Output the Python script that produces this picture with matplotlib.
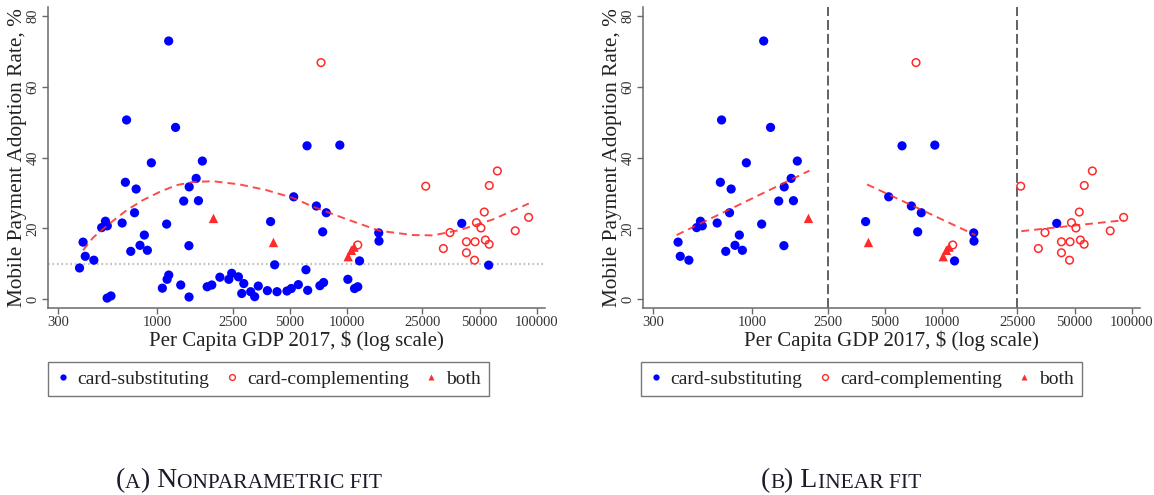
import matplotlib
matplotlib.use("Agg")
import matplotlib.pyplot as plt
from matplotlib.lines import Line2D
from matplotlib.ticker import NullLocator
from matplotlib.offsetbox import TextArea, HPacker, AnchoredOffsetbox

# ---- data: per capita GDP 2017 ($) and mobile payment adoption rate (%) ----
sub_gdp = [1150, 690, 1250, 932, 1730, 1605, 680, 1475, 775, 1380,
           1650, 760, 534, 510, 546, 654, 1122, 407, 856, 812,
           726, 888, 1470, 418, 464, 390, 545, 571, 1065, 1128,
           1151, 1331, 1472, 1834, 1940, 2140, 2385, 2470, 2680, 2860,
           2790, 3110, 3265, 3410, 3808, 4280, 4830, 5090, 5543, 6080,
           6210, 7200, 7530, 3960, 4160, 5240, 6900, 7780, 7450, 6160,
           9170, 14700, 14750, 11650, 10110, 10960, 11400, 40250, 55800]
sub_rate = [72.9, 50.6, 48.5, 38.5, 39.0, 34.1, 33.0, 31.7, 31.1, 27.7,
            27.8, 24.4, 22.0, 20.2, 20.7, 21.5, 21.2, 16.1, 18.1, 15.2,
            13.5, 13.8, 15.1, 12.1, 11.0, 8.8, 0.3, 0.9, 3.1, 5.6,
            6.8, 4.0, 0.6, 3.5, 4.0, 6.2, 5.6, 7.3, 6.3, 4.4,
            1.6, 2.1, 0.7, 3.7, 2.4, 2.1, 2.3, 3.0, 4.1, 8.3,
            2.5, 3.8, 4.7, 21.9, 9.7, 28.9, 26.3, 24.4, 19.0, 43.3,
            43.5, 18.7, 16.4, 10.8, 5.6, 3.0, 3.5, 21.4, 9.6]

comp_gdp = [7300, 11400, 26000, 32200, 34900, 42600, 42600, 47000, 47300,
            48100, 50800, 52900, 53600, 56100, 56200, 62000, 77000, 90600]
comp_rate = [66.8, 15.3, 31.9, 14.3, 18.8, 16.2, 13.1, 11.0, 16.2,
             21.6, 20.1, 24.6, 16.7, 15.5, 32.1, 36.2, 19.3, 23.1]

both_gdp = [1980, 4100, 10150, 10550, 10900]
both_rate = [22.8, 16.0, 12.0, 13.8, 14.7]

# nonparametric fit (panel A)
np_fit_gdp = [407, 460, 563, 690, 844, 1033, 1264, 1546, 1968, 2721, 3758,
              5190, 6626, 9930, 14860, 22230, 28330, 39200, 58700, 90800]
np_fit_rate = [13.8, 17.4, 21.4, 25.1, 28.0, 30.3, 32.2, 33.1, 33.3, 32.4, 30.8,
               28.6, 26.1, 22.6, 19.3, 18.1, 18.0, 19.5, 22.5, 27.0]

# linear fits by GDP bin (panel B)
lin_fit_gdp = [[400, 2005], [4030, 15000], [26200, 91000]]
lin_fit_rate = [[18.1, 36.3], [32.4, 18.1], [19.2, 22.3]]

bin_edges = [2500, 25000]
rate_threshold = 10

x_ticks = [300, 1000, 2500, 5000, 10000, 25000, 50000, 100000]
y_ticks = [0, 20, 40, 60, 80]

legend_labels = ["card-substituting", "card-complementing", "both"]

# ---- style ----
W, H = 1154, 495
plt.rcParams["font.family"] = ["Liberation Serif", "DejaVu Serif"]
BLUE = "#0000ff"
RED = "#ff2a2a"
SPINE = "#6a6a6a"

fig = plt.figure(figsize=(W / 100, H / 100), dpi=100)

def px_axes(x0, x1, y0, y1):
    return fig.add_axes([x0 / W, 1 - y1 / H, (x1 - x0) / W, (y1 - y0) / H])

def style_axes(ax):
    ax.set_xscale("log")
    ax.set_xlim(266, 110500)
    ax.set_ylim(-2.5, 82.5)
    ax.set_xticks(x_ticks)
    ax.set_xticklabels([str(t) for t in x_ticks])
    ax.xaxis.set_minor_locator(NullLocator())
    ax.set_yticks(y_ticks)
    ax.set_yticklabels([str(t) for t in y_ticks], rotation=90, va="center")
    for s in ("top", "right"):
        ax.spines[s].set_visible(False)
    for s in ("left", "bottom"):
        ax.spines[s].set_color(SPINE)
        ax.spines[s].set_linewidth(1.1)
    ax.tick_params(direction="out", length=4, width=1, color=SPINE,
                   labelsize=10.5, labelcolor="#333333", pad=2)
    ax.set_xlabel("Per Capita GDP 2017, \\$ (log scale)", fontsize=15,
                  color="#222222", labelpad=1)
    ax.set_ylabel("Mobile Payment Adoption Rate, %", fontsize=15.3,
                  color="#222222", labelpad=0)

def draw_points(ax, sg, sr, cg, cr, bg, br):
    ax.scatter(sg, sr, s=44, color=BLUE, edgecolors="none", zorder=3)
    ax.scatter(cg, cr, s=30, facecolors="none", edgecolors=RED,
               linewidths=1.1, zorder=3)
    ax.scatter(bg, br, s=46, marker="^", color=RED, edgecolors="none", zorder=3)

def add_legend(ax, x0, y0):
    handles = [
        Line2D([], [], ls="", marker="o", ms=4.5, color=BLUE, mec="none"),
        Line2D([], [], ls="", marker="o", ms=4.2, mfc="none", mec=RED, mew=1),
        Line2D([], [], ls="", marker="^", ms=5, color=RED, mec="none"),
    ]
    leg = ax.legend(handles, legend_labels, ncol=3, loc="upper left",
                    bbox_to_anchor=(x0 / W, 1 - y0 / H),
                    bbox_transform=fig.transFigure, frameon=True,
                    fancybox=False, edgecolor="#555555", fontsize=14,
                    handlelength=0.7, handletextpad=0.4, columnspacing=0.82,
                    borderpad=0.42, borderaxespad=0)
    leg.get_frame().set_linewidth(1.0)
    for t in leg.get_texts():
        t.set_color("#222222")

def add_caption(cx, cy, letter, first, rest):
    big, small = 20, 15.5
    props_big = dict(fontsize=big, color="#1a1a2a")
    props_small = dict(fontsize=small, color="#1a1a2a")
    parts = [TextArea("(", textprops=props_big),
             TextArea(letter, textprops=props_small),
             TextArea(") " + first, textprops=props_big),
             TextArea(rest, textprops=props_small)]
    box = HPacker(children=parts, align="baseline", pad=0, sep=0)
    anc = AnchoredOffsetbox(loc="center", child=box, frameon=False,
                            bbox_to_anchor=(cx / W, 1 - cy / H),
                            bbox_transform=fig.transFigure, pad=0, borderpad=0)
    fig.add_artist(anc)

FIT_STYLE = dict(color=RED, lw=1.4, ls=(0, (4, 2.6)), alpha=0.85, zorder=4)

# ---- panel A: all countries, nonparametric fit ----
axA = px_axes(48, 545, 7, 308)
style_axes(axA)
axA.axhline(rate_threshold, color="#c4c4c4", lw=1.6, ls=(0, (0.8, 1.2)), zorder=1)
draw_points(axA, sub_gdp, sub_rate, comp_gdp, comp_rate, both_gdp, both_rate)
axA.plot(np_fit_gdp, np_fit_rate, **FIT_STYLE)
add_legend(axA, 48, 362)
add_caption(249, 481, "A", "N", "ONPARAMETRIC FIT")

# ---- panel B: countries above the threshold, linear fit per GDP bin ----
def keep(g, r):
    pairs = [(a, b) for a, b in zip(g, r) if b >= rate_threshold]
    return [p[0] for p in pairs], [p[1] for p in pairs]

axB = px_axes(643, 1140, 7, 308)
style_axes(axB)
for edge in bin_edges:
    axB.axvline(edge, color="#555555", lw=1.3, ls=(0, (5.5, 2.2)), zorder=1)
sg, sr = keep(sub_gdp, sub_rate)
cg, cr = keep(comp_gdp, comp_rate)
bg, br = keep(both_gdp, both_rate)
draw_points(axB, sg, sr, cg, cr, bg, br)
for g, r in zip(lin_fit_gdp, lin_fit_rate):
    axB.plot(g, r, **FIT_STYLE)
add_legend(axB, 641, 362)
add_caption(841, 481, "B", "L", "INEAR FIT")

fig.savefig("out.png", dpi=100)
